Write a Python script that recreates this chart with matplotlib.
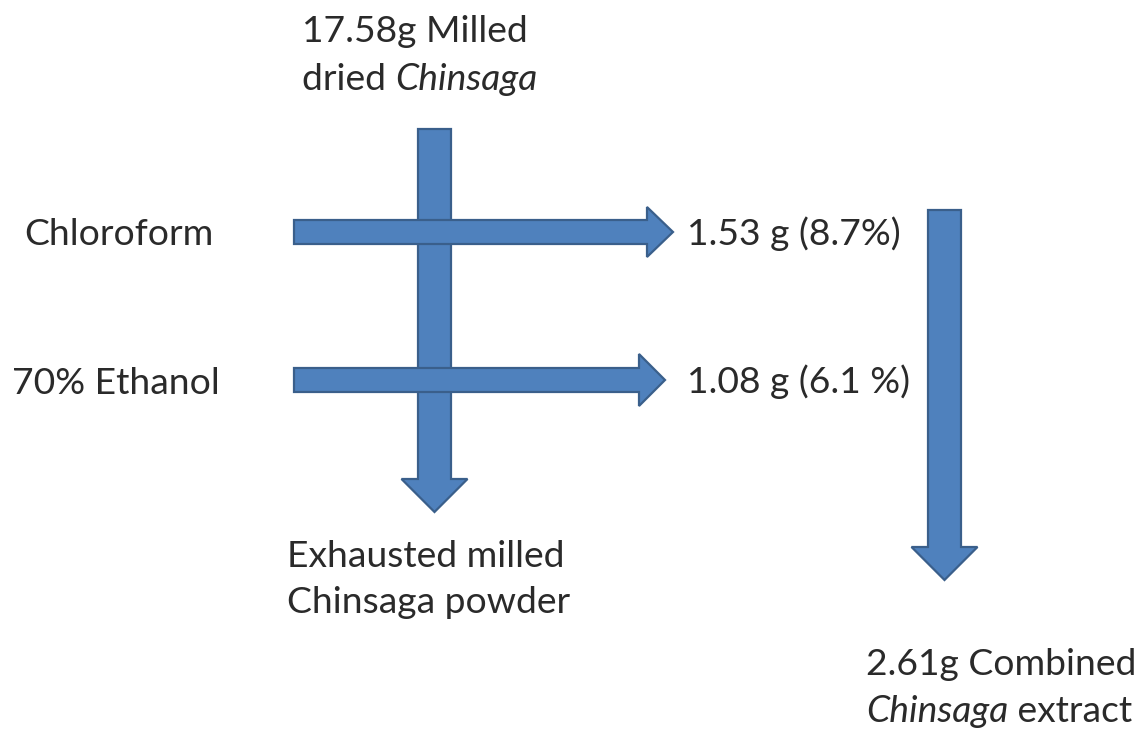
import matplotlib
matplotlib.use("Agg")
import matplotlib.pyplot as plt
from matplotlib.patches import FancyArrow

# labels of the flow diagram
start_label = ["17.58g Milled", ("dried ", "Chinsaga")]
solvent_labels = ["Chloroform", "70% Ethanol"]
yield_labels = ["1.53 g (8.7%)", "1.08 g (6.1 %)"]
residue_label = ["Exhausted milled", "Chinsaga powder"]
final_label = ["2.61g Combined", ("", "Chinsaga", " extract")]

FILL = "#4f81bd"
EDGE = "#3a5f8b"
TXT = "#2a2a2a"
FONT = "Lato"
FS = 26.8

fig = plt.figure(figsize=(11.48, 7.31), dpi=100)
ax = fig.add_axes([0, 0, 1, 1])
ax.set_xlim(0, 1148)
ax.set_ylim(731, 0)
ax.axis("off")


def arrow(x, y, dx, dy, w, hw, hl, z):
    ax.add_patch(FancyArrow(x, y, dx, dy, width=w, head_width=hw, head_length=hl,
                            length_includes_head=True, facecolor=FILL,
                            edgecolor=EDGE, linewidth=1.6, zorder=z))


# main column through the powder, then the two solvent streams
arrow(434.5, 129, 0, 383, 33, 66, 33, 1)
arrow(294, 232, 379, 0, 24, 50, 26, 2)
arrow(294, 380, 371, 0, 24, 52, 26, 2)
# combined extract
arrow(944.5, 210, 0, 370, 33, 66, 33, 1)

renderer = fig.canvas.get_renderer()


def line(x, y, parts):
    # parts: plain string or tuple alternating normal / italic pieces
    if isinstance(parts, str):
        parts = (parts,)
    for i, p in enumerate(parts):
        if not p:
            continue
        t = ax.text(x, y, p, fontsize=FS, family=FONT, color=TXT,
                    style="italic" if i % 2 else "normal", va="baseline", ha="left")
        bb = t.get_window_extent(renderer)
        x = ax.transData.inverted().transform((bb.x1, bb.y0))[0]


line(302, 42, start_label[0])
line(302, 90, start_label[1])
line(24, 245, solvent_labels[0])
line(12, 394, solvent_labels[1])
line(687, 245, yield_labels[0])
line(687, 393, yield_labels[1])
line(287, 567, residue_label[0])
line(287, 613, residue_label[1])
line(866, 675, final_label[0])
line(866, 722, final_label[1])

fig.savefig("out.png", dpi=100)
